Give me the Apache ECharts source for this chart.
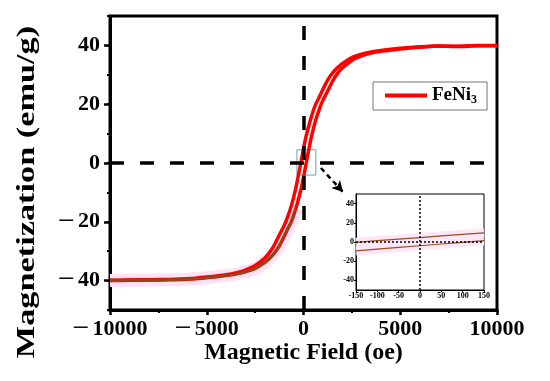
<!DOCTYPE html>
<html>
<head>
<meta charset="utf-8">
<script src="https://cdn.jsdelivr.net/npm/echarts@6/dist/echarts.min.js"></script>
<style>html,body{margin:0;padding:0;background:#fff}#c{width:550px;height:381px}</style>
</head>
<body>
<div id="c"></div>
<script>
// ---- data ----
const fieldPts = [-10000,-9000,-8000,-7000,-6000,-5000,-4000,-3500,-3000,-2500,-2000,-1750,-1500,-1250,-1000,-800,-600,-400,-200,-100,0,100,200,400,600,800,1000,1250,1500,1750,2000,2500,3000,3500,4000,5000,6000,7000,8000,9000,10000];
// descending-field branch (upper)
const magUpper = [-39.9,-39.8,-39.7,-39.6,-39.4,-38.8,-38.0,-37.4,-36.4,-34.9,-32.3,-30.4,-27.8,-24.5,-21.3,-18.0,-13.9,-8.6,-2.1,1.4,4.9,8.1,10.8,15.6,19.5,22.2,25.0,28.2,30.6,32.4,33.8,35.9,37.0,37.8,38.3,39.0,39.5,39.8,39.7,40.0,40.0];
// ascending-field branch (lower)
const magLower = [-40.0,-39.9,-39.8,-39.7,-39.5,-39.0,-38.3,-37.8,-37.0,-35.9,-33.8,-32.4,-30.6,-28.2,-25.0,-22.2,-19.5,-15.6,-10.8,-8.1,-4.9,-1.4,2.1,8.6,13.9,18.0,21.3,24.5,27.8,30.4,32.3,34.9,36.4,37.4,38.0,38.8,39.4,39.8,39.6,39.9,39.9];
const xTicks = [-10000,-5000,0,5000,10000];
const yTicks = [-40,-20,0,20,40];
// inset (zoom of -150..150 Oe)
const insetField = [-150,-100,-50,0,50,100,150];
const insetUpper = [-0.3,1.35,3.0,4.65,6.3,7.95,9.6];
const insetLower = [-9.3,-7.5,-5.7,-3.9,-2.1,-0.3,1.5];
const insetYTicks = [-40,-20,0,20,40];
const seriesName = 'FeNi3';

const zip = (xs, ys) => xs.map((x, i) => [x, ys[i]]);
const upperData = zip(fieldPts, magUpper);
const lowerData = zip(fieldPts, magLower);
const lowerLeft = lowerData.filter(p => p[0] <= -400);

const FONT = '"Liberation Serif", "Times New Roman", serif';
const minusFmt = v => (v < 0 ? '{m|\u2212}{n|' + Math.abs(v) + '}' : '{n|' + v + '}');
const tickRich = {
  m: {fontFamily: FONT, fontWeight: 'normal', fontSize: 30, lineHeight: 22, color: '#000', padding: [0, 3, 0, 0]},
  n: {fontFamily: FONT, fontWeight: 'bold', fontSize: 22, lineHeight: 22, color: '#000'}
};
const dashed = {color: '#000', width: 3.5, type: [14, 16]};
const dotted = {color: '#000', width: 1.5, type: [2, 2]};

const chart = echarts.init(document.getElementById('c'), null, {renderer: 'canvas'});
chart.setOption({
  animation: false,
  backgroundColor: '#fff',
  grid: [
    {left: 110, right: 53, top: 16, bottom: 71, show: true, borderColor: '#000', borderWidth: 3, containLabel: false, outerBoundsMode: 'none'},
    {left: 356, top: 194, width: 128, height: 96, show: true, borderColor: '#000', borderWidth: 1, containLabel: false, outerBoundsMode: 'none'}
  ],
  legend: {
    data: [seriesName],
    left: 373, top: 82,
    padding: [4, 10, 4, 12],
    borderColor: '#777', borderWidth: 1,
    icon: 'rect', itemWidth: 42, itemHeight: 4,
    formatter: () => 'FeNi{s|3}',
    textStyle: {
      fontFamily: FONT, fontWeight: 'bold', fontSize: 19, color: '#000',
      rich: {s: {fontFamily: FONT, fontWeight: 'bold', fontSize: 12, color: '#000', padding: [9, 0, 0, 0]}}
    }
  },
  xAxis: [
    {
      gridIndex: 0, type: 'value', min: -10000, max: 10000, interval: 5000,
      name: 'Magnetic Field (oe)', nameLocation: 'middle', nameGap: 31, nameMoveOverlap: false,
      nameTextStyle: {fontFamily: FONT, fontWeight: 'bold', fontSize: 24, color: '#000'},
      axisLine: {show: true, onZero: false, lineStyle: {color: '#000', width: 3}},
      axisTick: {show: true, inside: false, length: 5, lineStyle: {color: '#000', width: 2.5}},
      minorTick: {show: true, splitNumber: 2, length: 3, lineStyle: {color: '#000', width: 2}},
      splitLine: {show: false},
      axisLabel: {margin: 8, formatter: minusFmt, rich: tickRich, showMinLabel: true, showMaxLabel: true}
    },
    {
      gridIndex: 1, type: 'value', min: -150, max: 150, interval: 50,
      axisLine: {show: true, onZero: false, lineStyle: {color: '#000', width: 1}},
      axisTick: {show: true, inside: false, length: 2, lineStyle: {color: '#000', width: 1}},
      splitLine: {show: false},
      axisLabel: {margin: 2, fontFamily: FONT, fontWeight: 'bold', fontSize: 8, color: '#000', showMinLabel: true, showMaxLabel: true}
    }
  ],
  yAxis: [
    {
      gridIndex: 0, type: 'value', min: -50, max: 50,
      axisLine: {show: true, onZero: false, lineStyle: {color: '#000', width: 3}},
      axisTick: {show: true, inside: false, length: 6, customValues: yTicks, lineStyle: {color: '#000', width: 2.5}},
      splitLine: {show: false},
      axisLabel: {margin: 10, customValues: yTicks, formatter: minusFmt, rich: tickRich}
    },
    {
      gridIndex: 0, type: 'value', min: -50, max: 50, interval: 10, position: 'left',
      axisLine: {show: false, onZero: false},
      axisTick: {show: true, inside: false, length: 3, lineStyle: {color: '#000', width: 2}},
      splitLine: {show: false},
      axisLabel: {show: false}
    },
    {
      gridIndex: 1, type: 'value', min: -50, max: 50,
      axisLine: {show: true, onZero: false, lineStyle: {color: '#000', width: 1}},
      axisTick: {show: true, inside: false, length: 2, customValues: insetYTicks, lineStyle: {color: '#000', width: 1}},
      splitLine: {show: false},
      axisLabel: {margin: 2, customValues: insetYTicks, fontFamily: FONT, fontWeight: 'bold', fontSize: 8, color: '#000'}
    }
  ],
  series: [
    {
      type: 'line', name: 'halo', xAxisIndex: 0, yAxisIndex: 0, data: lowerLeft,
      showSymbol: false, smooth: 0.2, silent: true, z: 1,
      lineStyle: {color: '#fde2f6', width: 13}
    },
    {
      type: 'line', name: seriesName, xAxisIndex: 0, yAxisIndex: 0, data: upperData,
      showSymbol: false, smooth: 0.2, z: 2, color: '#ff0000',
      lineStyle: {color: '#ff0000', width: 3.5}
    },
    {
      type: 'line', name: seriesName, xAxisIndex: 0, yAxisIndex: 0, data: lowerData,
      showSymbol: false, smooth: 0.2, z: 2, color: '#ff0000',
      lineStyle: {color: '#ff0000', width: 3.5}
    },
    {
      type: 'line', name: 'overlay', xAxisIndex: 0, yAxisIndex: 0, data: lowerLeft,
      showSymbol: false, smooth: 0.2, silent: true, z: 3,
      lineStyle: {color: '#8a4a1c', width: 2.5},
      markArea: {
        silent: true,
        itemStyle: {color: 'rgba(0,0,0,0)', borderColor: '#6a9fc0', borderWidth: 1},
        data: [[{coord: [-340, 4.5]}, {coord: [640, -4.1]}]]
      }
    },
    {
      type: 'line', name: 'guides', xAxisIndex: 0, yAxisIndex: 0, data: [],
      silent: true, z: 5,
      markLine: {
        silent: true, symbol: ['none', 'none'], label: {show: false},
        lineStyle: dashed,
        data: [
          {xAxis: 0, lineStyle: dashed},
          {yAxis: 0, lineStyle: dashed},
          [
            {coord: [900, -1.7], symbol: 'none', lineStyle: {width: 2.5, type: [5, 4], color: '#000'}},
            {coord: [2040, -9.9], symbol: 'arrow', symbolSize: [9, 11]}
          ]
        ]
      }
    },
    {
      type: 'line', name: 'insetHalo1', xAxisIndex: 1, yAxisIndex: 2, data: zip(insetField, insetUpper),
      showSymbol: false, silent: true, z: 1, lineStyle: {color: '#fde6f7', width: 9}
    },
    {
      type: 'line', name: 'insetHalo2', xAxisIndex: 1, yAxisIndex: 2, data: zip(insetField, insetLower),
      showSymbol: false, silent: true, z: 1, lineStyle: {color: '#fde6f7', width: 9}
    },
    {
      type: 'line', name: 'insetUpper', xAxisIndex: 1, yAxisIndex: 2, data: zip(insetField, insetUpper),
      showSymbol: false, silent: true, z: 3, lineStyle: {color: '#94501f', width: 1.2}
    },
    {
      type: 'line', name: 'insetLower', xAxisIndex: 1, yAxisIndex: 2, data: zip(insetField, insetLower),
      showSymbol: false, silent: true, z: 3, lineStyle: {color: '#94501f', width: 1.2},
      markLine: {
        silent: true, symbol: ['none', 'none'], label: {show: false},
        lineStyle: dotted,
        data: [{xAxis: 0, lineStyle: dotted}, {yAxis: 0, lineStyle: dotted}]
      }
    }
  ],
  graphic: [
    {
      type: 'text', x: 27, y: 192, rotation: Math.PI / 2, scaleX: 1.27, scaleY: 0.95, z: 10,
      style: {text: 'Magnetization (emu/g)', font: 'bold 27px ' + FONT, fill: '#000', align: 'center', verticalAlign: 'middle'}
    }
  ]
});
</script>
</body>
</html>
